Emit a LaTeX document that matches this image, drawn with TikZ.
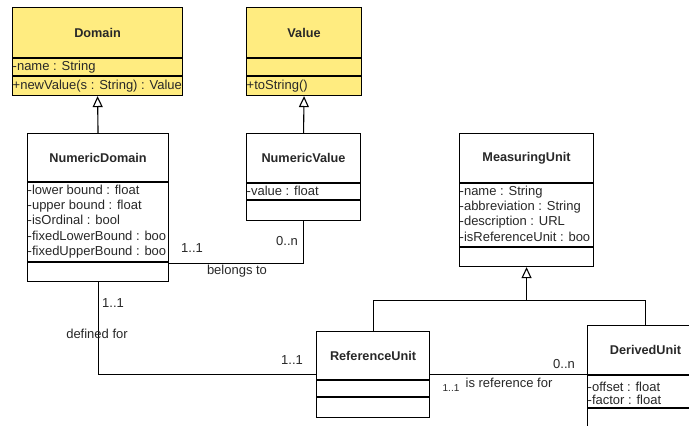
\documentclass[tikz,border=0pt]{standalone}
\usepackage{fontspec}
\setmainfont{Liberation Sans}
\usetikzlibrary{arrows.meta,calc}
\definecolor{umlyellow}{RGB}{255,236,128}
\definecolor{txt}{RGB}{40,40,40}
\begin{document}
\begin{tikzpicture}[x=1pt,y=-1pt,
  box/.style={draw=black, line width=1.1pt, rectangle, inner sep=0pt, anchor=north west},
  yel/.style={fill=umlyellow},
  cname/.style={font=\fontsize{12.7}{15}\selectfont\bfseries, text=txt, inner sep=0pt},
  attr/.style={font=\fontsize{13}{15.4}\selectfont, text=txt, inner sep=0pt, align=left, anchor=base west},
  lbl/.style={font=\fontsize{13}{15}\selectfont, text=txt, inner sep=0pt, anchor=base},
  comp/.style={line width=1.1pt},
  gen/.style={-{Triangle[open,length=11pt,width=10pt]}, line width=1.1pt},
  assoc/.style={line width=1.1pt}]
\clip (0,0) rectangle (689,426);
\fill[white] (0,0) rectangle (689,426);

% Domain
\node[box,yel,minimum width=170pt,minimum height=88pt] (dom) at (12,7) {};
\draw[comp] ($(dom.north west)+(0,51)$) -- ($(dom.north east)+(0,51)$);
\draw[comp] ($(dom.north west)+(0,69)$) -- ($(dom.north east)+(0,69)$);
\node[cname] (domn) at ($(dom.north)+(0,25.5)$) {Domain};
\node[attr] (doma) at ($(dom.north west)+(0.5,63)$) {-name : String};
\node[attr] (domo) at ($(dom.north west)+(0.5,82)$) {+newValue(s : String) : Value};

% Value
\node[box,yel,minimum width=115pt,minimum height=88pt] (val) at (246,7) {};
\draw[comp] ($(val.north west)+(0,51)$) -- ($(val.north east)+(0,51)$);
\draw[comp] ($(val.north west)+(0,69)$) -- ($(val.north east)+(0,69)$);
\node[cname] (valn) at ($(val.north)+(0,25.5)$) {Value};
\node[attr] (valo) at ($(val.north west)+(0.5,82)$) {+toString()};

% NumericDomain
\node[box,minimum width=141pt,minimum height=148pt] (ndom) at (27,133) {};
\draw[comp] ($(ndom.north west)+(0,49)$) -- ($(ndom.north east)+(0,49)$);
\draw[comp] ($(ndom.north west)+(0,129)$) -- ($(ndom.north east)+(0,129)$);
\node[cname] (ndomn) at ($(ndom.north)+(0,24.5)$) {NumericDomain};
\node[attr] (ndoma) at ($(ndom.north west)+(0.5,122.6)$) {-lower bound : float\\-upper bound : float\\-isOrdinal : bool\\-fixedLowerBound : boo\\-fixedUpperBound : boo};

% NumericValue
\node[box,minimum width=114pt,minimum height=87pt] (nval) at (246,133) {};
\draw[comp] ($(nval.north west)+(0,50)$) -- ($(nval.north east)+(0,50)$);
\draw[comp] ($(nval.north west)+(0,67)$) -- ($(nval.north east)+(0,67)$);
\node[cname] (nvaln) at ($(nval.north)+(0,25)$) {NumericValue};
\node[attr] (nvala) at ($(nval.north west)+(0.5,62)$) {-value : float};

% MeasuringUnit
\node[box,minimum width=134pt,minimum height=133pt] (mu) at (459,133) {};
\draw[comp] ($(mu.north west)+(0,50)$) -- ($(mu.north east)+(0,50)$);
\draw[comp] ($(mu.north west)+(0,114)$) -- ($(mu.north east)+(0,114)$);
\node[cname] (mun) at ($(mu.north)+(0,25)$) {MeasuringUnit};
\node[attr] (mua) at ($(mu.north west)+(0.5,108.2)$) {-name : String\\-abbreviation : String\\-description : URL\\-isReferenceUnit : boo};

% ReferenceUnit
\node[box,minimum width=113pt,minimum height=86pt] (ref) at (316,331) {};
\draw[comp] ($(ref.north west)+(0,49)$) -- ($(ref.north east)+(0,49)$);
\draw[comp] ($(ref.north west)+(0,66)$) -- ($(ref.north east)+(0,66)$);
\node[cname] (refn) at ($(ref.north)+(0,24.5)$) {ReferenceUnit};

% DerivedUnit
\node[box,minimum width=116pt,minimum height=120pt] (der) at (587,325) {};
\draw[comp] ($(der.north west)+(0,50)$) -- ($(der.north east)+(0,50)$);
\draw[comp] ($(der.north west)+(0,83)$) -- ($(der.north east)+(0,83)$);
\node[cname] (dern) at ($(der.north)+(0,25)$) {DerivedUnit};
\node[attr,font=\fontsize{13}{13.5}\selectfont] (dera) at ($(der.north west)+(0.5,79.5)$) {-offset : float\\-factor : float};

% generalizations
\draw[gen] (ndom.north) -- (dom.south);
\draw[gen] (nval.north) -- (val.south);
\coordinate (j) at ($(mu.south)+(0,33)$);
\draw[assoc] (ref.north) |- (j) -| (der.north);
\draw[gen] (j) -- (mu.south);

% associations
\draw[assoc] ([yshift=19pt]ndom.south east) -| (nval.south);
\draw[assoc] (ndom.south) |- (ref.west);
\draw[assoc] (ref.east) -- (ref.east -| der.west);

% labels
\node[lbl] (m1) at (192,252) {1..1};
\node[lbl] (m2) at (287,245) {0..n};
\node[lbl] (l1) at (237,274) {belongs to};
\node[lbl] (m3) at (113,307) {1..1};
\node[lbl] (l2) at (97,338) {defined for};
\node[lbl] (m4) at (292,364) {1..1};
\node[lbl] (m5) at (564,368) {0..n};
\node[lbl,font=\fontsize{10}{12}\selectfont] (m6) at (451,391) {1..1};
\node[lbl] (l3) at (509,387) {is reference for};
\end{tikzpicture}
\end{document}
